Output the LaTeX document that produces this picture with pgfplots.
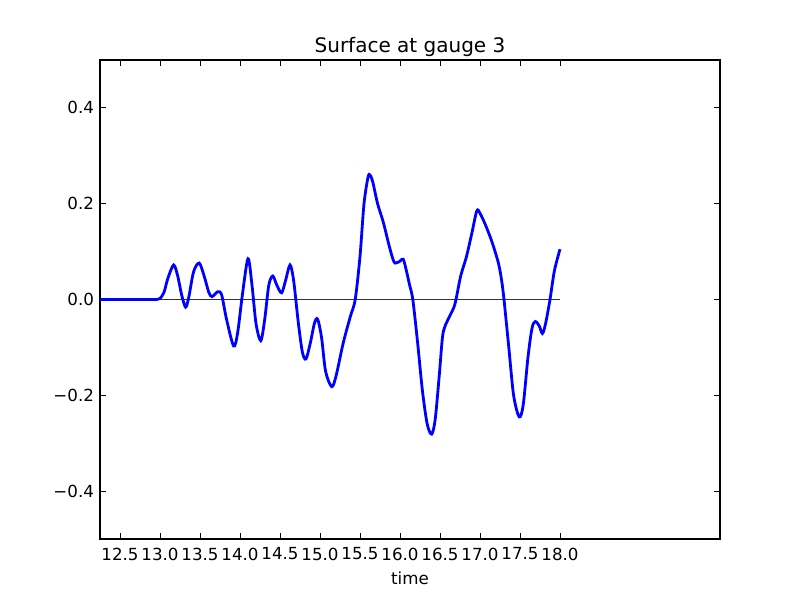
\documentclass[border=0pt]{standalone}
\usepackage{fontspec}
\setmainfont{DejaVu Sans}
\usepackage{pgfplots}
\pgfplotsset{compat=1.18}
\begin{document}
\begin{tikzpicture}
\path (-75pt,-45.75pt) rectangle (525pt,404.25pt);
\begin{axis}[
  at={(0,0)}, anchor=south west,
  scale only axis, width=465pt, height=359.25pt,
  xmin=12.25, xmax=20, ymin=-0.5, ymax=0.5,
  xtick={12.5,13,13.5,14,14.5,15,15.5,16,16.5,17,17.5,18},
  xticklabels={12.5,13.0,13.5,14.0,14.5,15.0,15.5,16.0,16.5,17.0,17.5,18.0},
  ytick={-0.4,-0.2,0,0.2,0.4},
  yticklabels={−0.4,−0.2,0.0,0.2,0.4},
  tick align=inside, xtick pos=both, ytick pos=both,
  major tick length=4.2pt,
  tick style={black, line width=0.6pt},
  axis line style={black, line width=0.8pt},
  ticklabel style={font=\fontsize{12.5}{15}\selectfont},
  xticklabel style={yshift=-3pt},
  yticklabel style={xshift=-1pt},
  xlabel={time}, xlabel style={font=\fontsize{12.5}{15}\selectfont, yshift=-1.5pt},
  title={Surface at gauge 3}, title style={font=\fontsize{15}{18}\selectfont, yshift=-7pt},
  clip=true,
]
\addplot[black!80, line width=1pt] coordinates {(12.25,0) (18,0)};
\addplot[blue, line width=2.1pt, smooth, tension=0.5] coordinates {
(12.25,0) (12.5,0) (12.75,0) (12.9,0) (12.96,0) (13.0,0.002) (13.05,0.015) (13.1,0.045) (13.17,0.072) (13.22,0.05) (13.27,0.01)
(13.32,-0.016) (13.36,0.005) (13.42,0.058) (13.49,0.076) (13.55,0.05) (13.61,0.015)
(13.65,0.006) (13.72,0.016) (13.77,0.01) (13.83,-0.04) (13.92,-0.097) (13.97,-0.07)
(14.03,0.01) (14.1,0.085) (14.15,0.03) (14.2,-0.05) (14.26,-0.086) (14.31,-0.04)
(14.36,0.03) (14.41,0.049) (14.46,0.03) (14.52,0.014) (14.57,0.04) (14.625,0.072)
(14.67,0.04) (14.73,-0.05) (14.78,-0.11) (14.825,-0.124) (14.88,-0.09) (14.93,-0.05)
(14.97,-0.041) (15.02,-0.08) (15.07,-0.15) (15.146,-0.182) (15.2,-0.16) (15.29,-0.091)
(15.38,-0.035) (15.44,0.0) (15.5,0.09) (15.55,0.2) (15.6,0.255) (15.625,0.26)
(15.66,0.245) (15.72,0.2) (15.79,0.162) (15.86,0.115) (15.91,0.085) (15.94,0.076)
(16.0,0.08) (16.04,0.084) (16.08,0.06) (16.12,0.03) (16.16,0.0) (16.22,-0.09)
(16.28,-0.19) (16.34,-0.26) (16.396,-0.281) (16.44,-0.25) (16.49,-0.16) (16.53,-0.08)
(16.56,-0.057) (16.62,-0.035) (16.67,-0.018) (16.70,0.0) (16.76,0.05) (16.83,0.089)
(16.9,0.14) (16.96,0.185) (17.0,0.18) (17.07,0.155) (17.15,0.12) (17.23,0.076)
(17.27,0.04) (17.30,0.0) (17.36,-0.1) (17.42,-0.2) (17.49,-0.245) (17.54,-0.22)
(17.6,-0.12) (17.65,-0.06) (17.69,-0.046) (17.74,-0.055) (17.78,-0.071) (17.82,-0.05)
(17.875,0.0) (17.93,0.06) (18.0,0.105)
};
\end{axis}
\end{tikzpicture}
\end{document}
